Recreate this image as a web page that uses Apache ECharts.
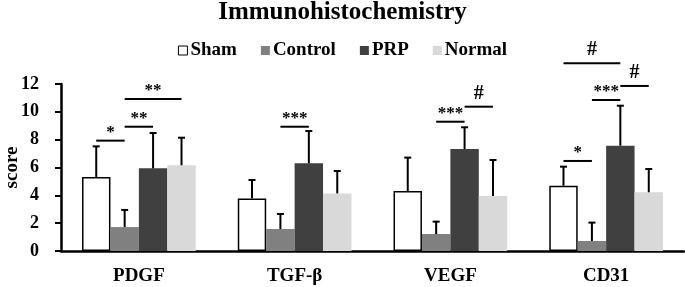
<!DOCTYPE html>
<html>
<head>
<meta charset="utf-8">
<script src="https://cdn.jsdelivr.net/npm/echarts@6/dist/echarts.min.js"></script>
<style>
html,body{margin:0;padding:0;background:#fff;}
#main{width:685px;height:287px;}
</style>
</head>
<body>
<div id="main"></div>
<script>
var categories = ['PDGF', 'TGF-β', 'VEGF', 'CD31'];
var groupNames = ['Sham', 'Control', 'PRP', 'Normal'];
var sham = [5.32, 3.78, 4.31, 4.69];
var shamSd = [2.2, 1.32, 2.4, 1.37];
var control = [1.72, 1.58, 1.22, 0.72];
var controlSd = [1.23, 1.08, 0.89, 1.32];
var prp = [5.94, 6.30, 7.33, 7.57];
var prpSd = [2.54, 2.32, 1.56, 2.87];
var normal = [6.16, 4.14, 3.95, 4.22];
var normalSd = [1.98, 1.61, 2.59, 1.67];
// [category, from group, to group, height, mark]
var brackets = [
    [0, 0, 1, 7.93, '*'],
    [0, 1, 2, 8.93, '**'],
    [0, 1, 3, 10.92, '**'],
    [1, 1, 2, 8.93, '***'],
    [2, 1, 2, 9.29, '***'],
    [2, 2, 3, 10.37, '#'],
    [3, 0, 1, 6.47, '*'],
    [3, 1, 2, 10.85, '***'],
    [3, 2, 3, 11.86, '#'],
    [3, 0, 2, 13.49, '#']
];

var font = 'Liberation Serif';
var gapRatio = 0.27;
var means = [sham, control, prp, normal];
var sds = [shamSd, controlSd, prpSd, normalSd];
var colors = ['#ffffff', '#808080', '#404040', '#d9d9d9'];

function barOffset(api, group) {
    var band = api.size([1, 0])[0];
    var w = band * (1 - gapRatio) / 4;
    return (group - 1.5) * w;
}

var series = [];
for (var g = 0; g < 4; g++) {
    series.push({
        name: groupNames[g],
        type: 'bar',
        data: means[g],
        barGap: 0,
        barCategoryGap: (gapRatio * 100) + '%',
        itemStyle: {
            color: colors[g],
            borderColor: g == 0 ? '#000' : colors[g],
            borderWidth: g == 0 ? 1.5 : 0
        }
    });
}

var errData = [];
for (var g = 0; g < 4; g++) {
    for (var i = 0; i < categories.length; i++) {
        errData.push([i, means[g][i], means[g][i] + sds[g][i], g]);
    }
}
series.push({
    type: 'custom',
    data: errData,
    z: 5,
    clip: false,
    renderItem: function (params, api) {
        var g = api.value(3);
        var p0 = api.coord([api.value(0), api.value(1)]);
        var p1 = api.coord([api.value(0), api.value(2)]);
        var x = p0[0] + barOffset(api, g);
        var st = { stroke: '#000', lineWidth: 2 };
        return {
            type: 'group',
            children: [
                { type: 'line', shape: { x1: x, y1: p0[1], x2: x, y2: p1[1] }, style: st },
                { type: 'line', shape: { x1: x - 3.5, y1: p1[1], x2: x + 3.5, y2: p1[1] }, style: st }
            ]
        };
    }
});

series.push({
    type: 'custom',
    data: brackets,
    z: 5,
    clip: false,
    renderItem: function (params, api) {
        var c = api.value(0);
        var p = api.coord([c, api.value(3)]);
        var x1 = p[0] + barOffset(api, api.value(1));
        var x2 = p[0] + barOffset(api, api.value(2));
        var mark = brackets[params.dataIndex][4];
        var isHash = mark == '#';
        return {
            type: 'group',
            children: [
                { type: 'line', shape: { x1: x1, y1: p[1], x2: x2, y2: p[1] }, style: { stroke: '#000', lineWidth: 2 } },
                {
                    type: 'text',
                    x: (x1 + x2) / 2,
                    y: p[1] - (isHash ? 3 : 0),
                    style: {
                        text: mark,
                        fill: '#000',
                        font: 'bold ' + (isHash ? 20 : 17) + 'px "' + font + '"',
                        align: 'center',
                        verticalAlign: 'bottom'
                    }
                }
            ]
        };
    }
});

var myChart = echarts.init(document.getElementById('main'));
var option = {
    backgroundColor: '#fff',
    animation: false,
    title: {
        text: 'Immunohistochemistry',
        left: 'center',
        top: 0,
        padding: [0, 5],
        textStyle: { fontFamily: font, fontWeight: 'bold', fontSize: 25, color: '#000' }
    },
    legend: {
        data: groupNames.map(function (n, k) {
            return {
                name: n,
                itemStyle: { color: colors[k], borderColor: k == 0 ? '#000' : colors[k], borderWidth: k == 0 ? 1 : 0 }
            };
        }),
        left: 'center',
        top: 36,
        icon: 'rect',
        itemWidth: 9,
        itemHeight: 9,
        itemGap: 24,
        textStyle: { fontFamily: font, fontWeight: 'bold', fontSize: 19, color: '#000', padding: [0, 0, 0, -2] }
    },
    grid: {
        left: 61,
        right: 1,
        top: 84,
        bottom: 36,
        containLabel: false,
        outerBoundsMode: 'none'
    },
    xAxis: {
        type: 'category',
        data: categories,
        axisLine: { lineStyle: { color: '#000', width: 2.5 } },
        axisTick: { show: false },
        axisLabel: { fontFamily: font, fontWeight: 'bold', fontSize: 19, color: '#000', margin: 16 }
    },
    yAxis: {
        type: 'value',
        min: 0,
        max: 12,
        interval: 2,
        name: 'score',
        nameLocation: 'middle',
        nameGap: 39,
        nameMoveOverlap: false,
        nameTextStyle: { fontFamily: font, fontWeight: 'bold', fontSize: 19, color: '#000' },
        axisLine: { show: true, lineStyle: { color: '#000', width: 2.5 } },
        axisTick: { show: true, length: 6, lineStyle: { color: '#000', width: 2 } },
        axisLabel: { fontFamily: font, fontWeight: 'bold', fontSize: 18, color: '#000', margin: 22 },
        splitLine: { show: false }
    },
    series: series
};
myChart.setOption(option);
</script>
</body>
</html>
